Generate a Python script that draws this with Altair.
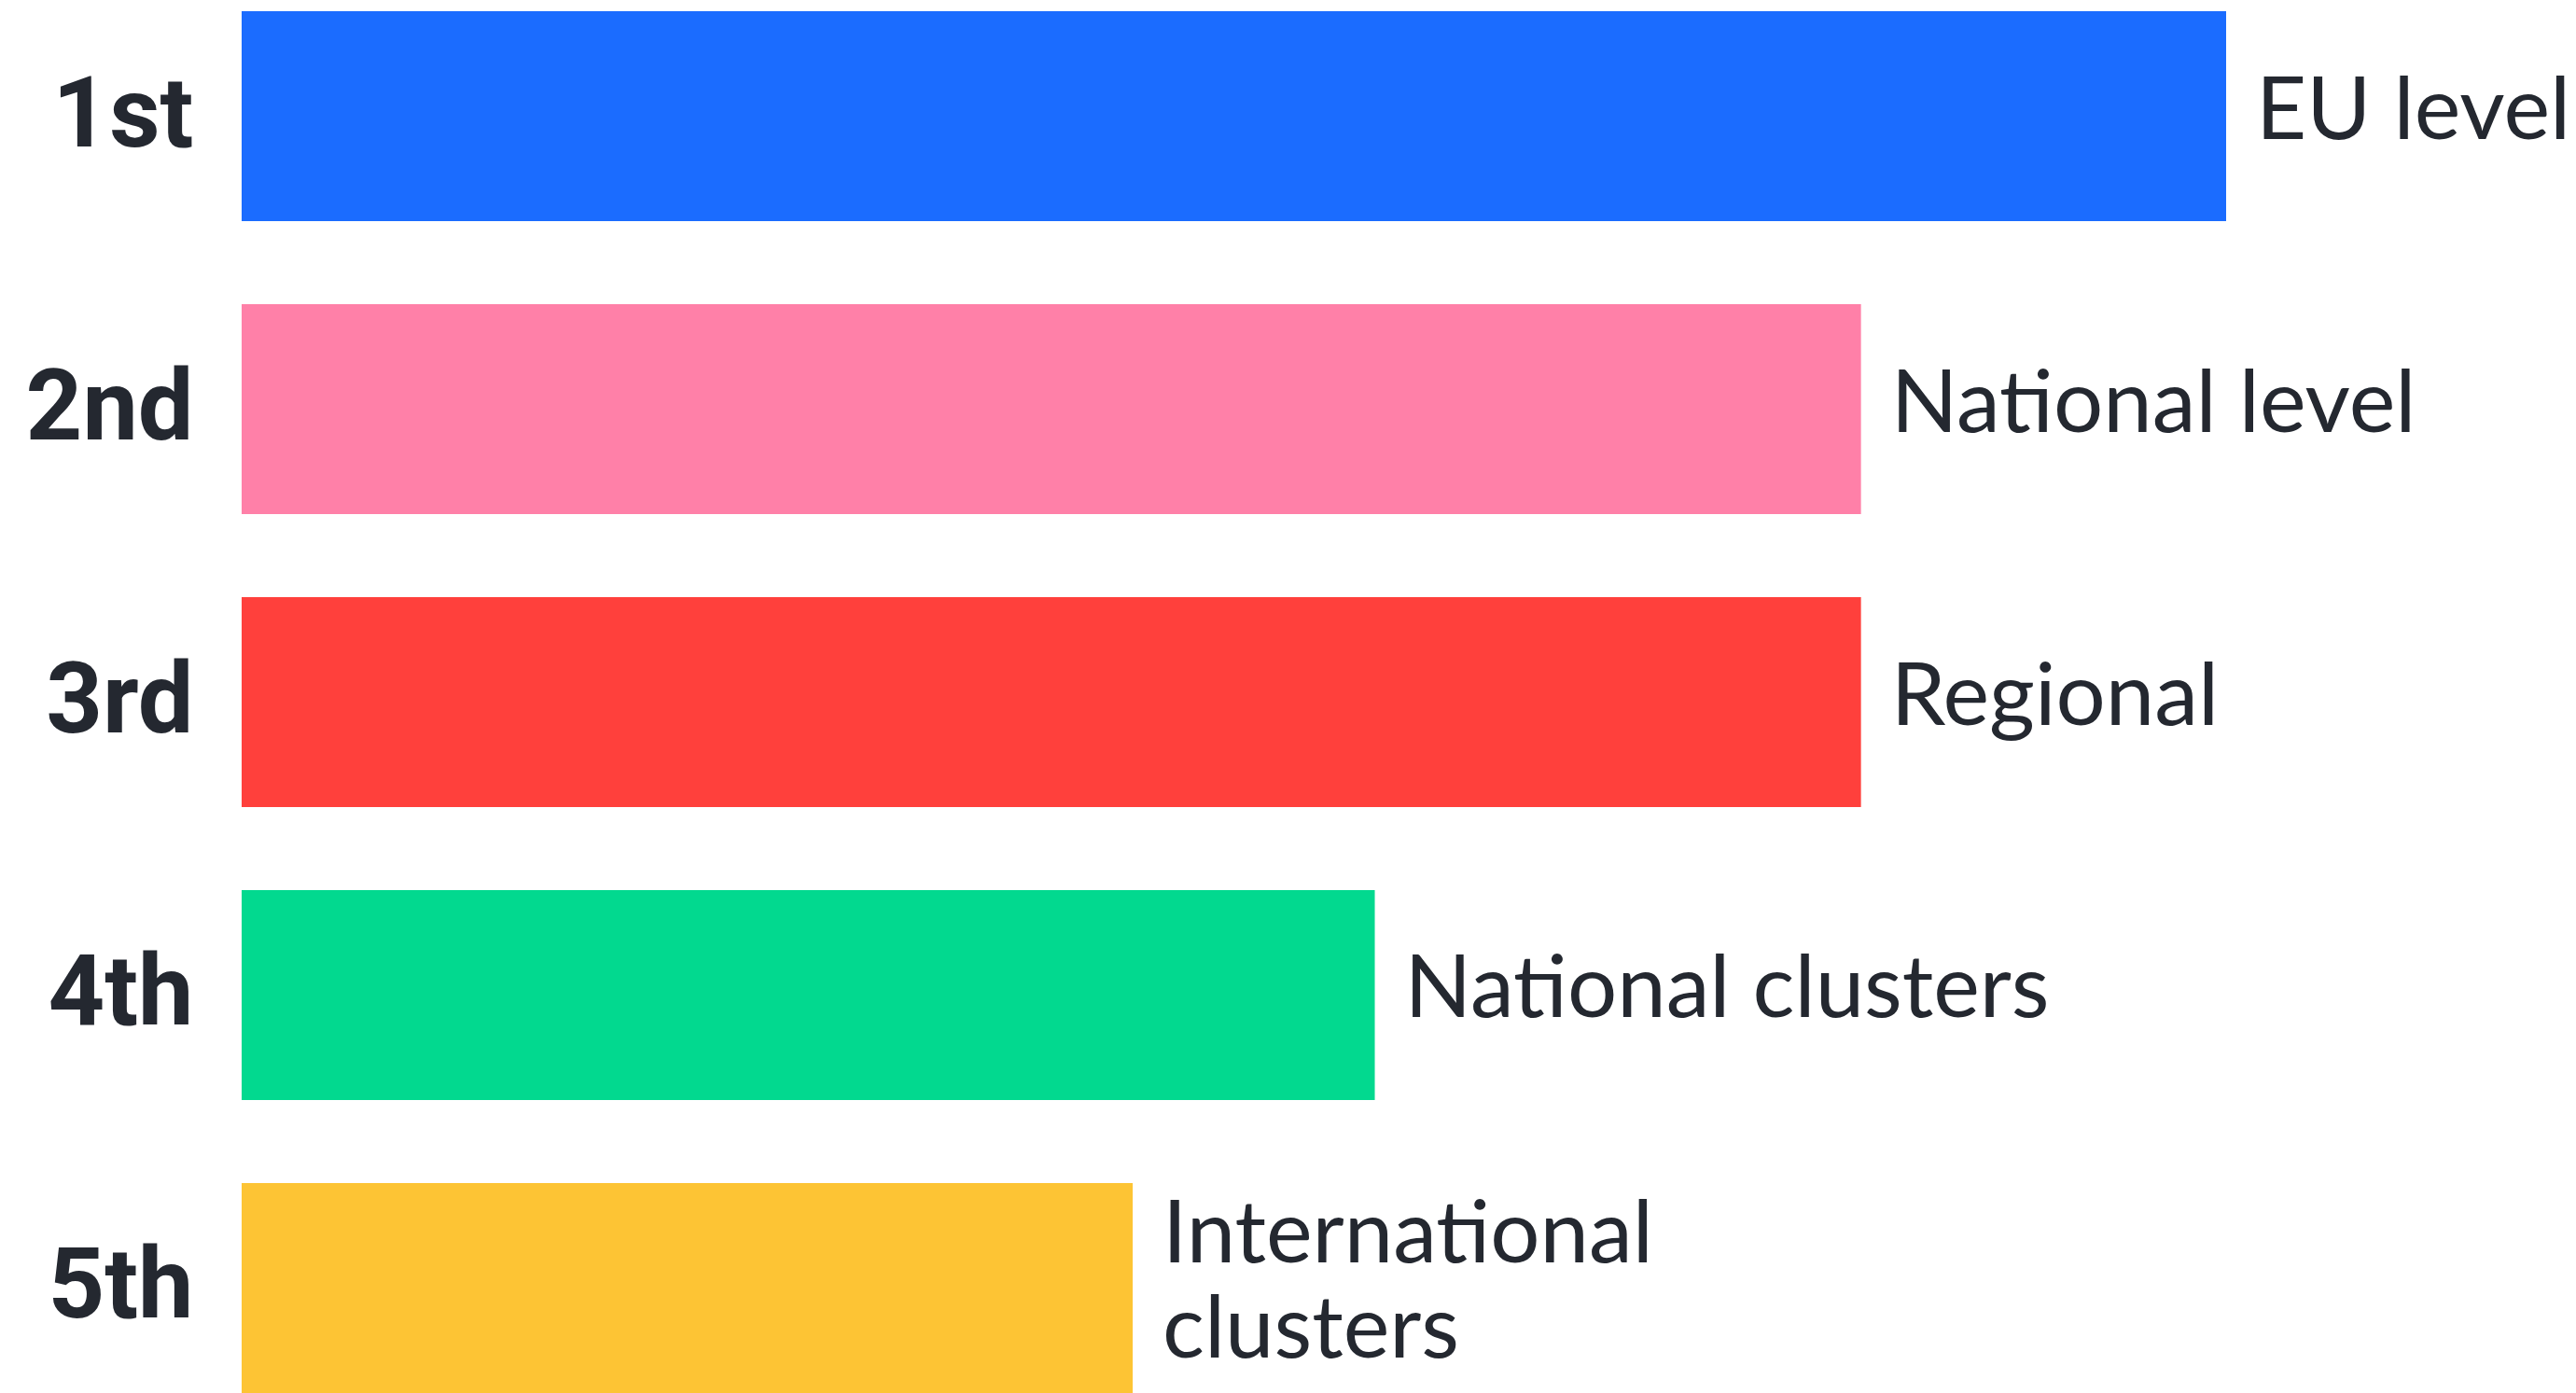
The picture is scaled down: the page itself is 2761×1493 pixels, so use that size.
import altair as alt
import pandas as pd

ranks = ["1st", "2nd", "3rd", "4th", "5th"]
categories = ["EU level", "National level", "Regional", "National clusters", "International\nclusters"]
values = [100, 81.6, 81.6, 57.1, 44.9]
colors = ["#1b6cff", "#ff80a8", "#ff403c", "#02d98f", "#fdc434"]
multiline = [False, False, False, False, True]

df = pd.DataFrame({"rank": ranks, "category": categories, "value": values,
                   "color": colors, "multi": multiline})

y = alt.Y("rank:N", sort=ranks,
          scale=alt.Scale(paddingInner=0.283, paddingOuter=0),
          axis=alt.Axis(title=None, domain=False, ticks=False, grid=False,
                        labelFontSize=106, labelFontWeight="bold", labelColor="#242830",
                        labelFont="Roboto", labelPadding=52))
x = alt.X("value:Q", scale=alt.Scale(domain=[0, 100], nice=False), axis=None)

bars = alt.Chart(df).mark_bar(cornerRadius=0).encode(
    x=x, y=y, color=alt.Color("color:N", scale=None)
)

text_style = dict(align="left", baseline="middle", dx=32, fontSize=94, font="Lato",
                  color="#242830", lineBreak="\n", lineHeight=102)

labels = alt.Chart(df).transform_filter("!datum.multi").mark_text(
    dy=-4, **text_style
).encode(x=x, y=y, text="category:N")

labels_multi = alt.Chart(df).transform_filter("datum.multi").mark_text(
    dy=-55, **text_style
).encode(x=x, y=y, text="category:N")

chart = (bars + labels + labels_multi).properties(
    width=2127, height=1481,
    padding={"left": 259, "top": 12, "right": 375, "bottom": 0},
    autosize=alt.AutoSizeParams(type="none"),
    background="white"
).configure_view(stroke=None)

chart.save("out.html", embed_options={"renderer": "svg", "actions": False})
